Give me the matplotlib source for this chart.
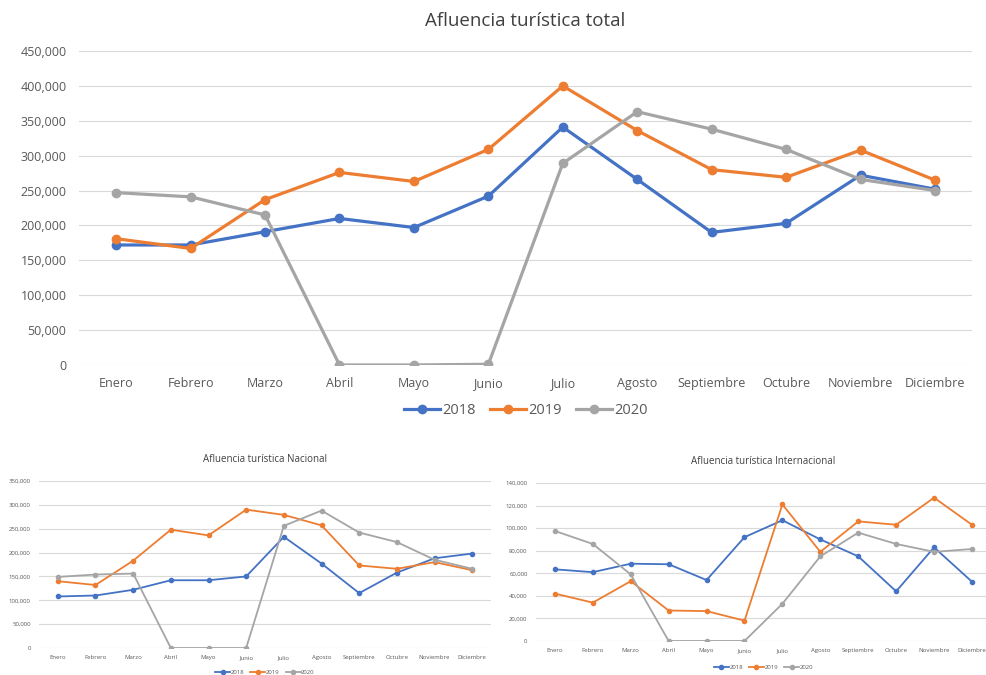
import matplotlib.pyplot as plt
from matplotlib.ticker import FuncFormatter

meses = ['Enero', 'Febrero', 'Marzo', 'Abril', 'Mayo', 'Junio', 'Julio',
         'Agosto', 'Septiembre', 'Octubre', 'Noviembre', 'Diciembre']
years = ['2018', '2019', '2020']

total_2018 = [172000, 172000, 191000, 210000, 197000, 242000, 341000, 266000, 190000, 203000, 272000, 252000]
total_2019 = [181000, 167000, 237000, 276000, 263000, 309000, 400000, 336000, 280000, 269000, 308000, 265000]
total_2020 = [247000, 241000, 215000, 0, 0, 1000, 289000, 363000, 338000, 309000, 266000, 250000]

nac_2018 = [108000, 110000, 122000, 142000, 142000, 150000, 233000, 177000, 115000, 158000, 188000, 198000]
nac_2019 = [140000, 132000, 183000, 248000, 236000, 290000, 279000, 257000, 173000, 166000, 180000, 163000]
nac_2020 = [149000, 154000, 156000, 0, 0, 0, 256000, 288000, 242000, 222000, 185000, 166000]

int_2018 = [63500, 61000, 68500, 68000, 54000, 92000, 107000, 90000, 75000, 44000, 83000, 52500]
int_2019 = [42000, 34000, 53000, 27000, 26500, 18000, 121000, 79000, 106000, 103000, 127000, 103000]
int_2020 = [97500, 86000, 59000, 0, 0, 0, 33000, 75000, 96000, 86000, 79000, 81500]

colors = ['#4472C4', '#ED7D31', '#A5A5A5']
txt = '#595959'
grid = '#D9D9D9'
plt.rcParams['font.family'] = ['Open Sans', 'DejaVu Sans']

fmt = FuncFormatter(lambda v, p: f'{int(v):,}')


def draw(ax, series, ymax, step, title, lw, ms, tfs, lfs, titfs, leg_y, tpad, xpad, ypad):
    x = range(len(meses))
    for s, c, y in zip(series, colors, years):
        ax.plot(x, s, color=c, lw=lw, marker='o', ms=ms, label=y, zorder=3)
    ax.set_xlim(-0.5, len(meses) - 0.5)
    ax.set_ylim(0, ymax)
    ax.set_yticks(range(0, ymax + 1, step))
    ax.yaxis.set_major_formatter(fmt)
    ax.set_xticks(list(x))
    ax.set_xticklabels(meses)
    ax.tick_params(length=0, labelsize=tfs, colors=txt)
    ax.tick_params(axis='x', pad=xpad)
    ax.tick_params(axis='y', pad=ypad)
    ax.grid(axis='y', color=grid, lw=0.8)
    ax.set_axisbelow(True)
    for sp in ax.spines.values():
        sp.set_visible(False)
    ax.set_title(title, fontsize=titfs, color='#404040', pad=tpad)
    ax.legend(loc='upper center', bbox_to_anchor=(0.5, leg_y), ncol=3, frameon=False,
              fontsize=lfs, labelcolor=txt, handlelength=2.5, columnspacing=1.0,
              handletextpad=0.1)


fig = plt.figure(figsize=(9.87, 6.75), dpi=100)

ax1 = fig.add_axes([0.080, 0.4593, 0.905, 0.4651])
draw(ax1, [total_2018, total_2019, total_2020], 450000, 50000,
     'Afluencia turística total', 2.3, 6, 9, 10.5, 13.5, -0.08, 18, 9, 9)

ax2 = fig.add_axes([0.0395, 0.040, 0.458, 0.2474])
draw(ax2, [nac_2018, nac_2019, nac_2020], 350000, 50000,
     'Afluencia turística Nacional', 1.3, 3, 4.3, 4.3, 7, -0.1, 14, 5, 6)

ax3 = fig.add_axes([0.543, 0.0504, 0.461, 0.234])
draw(ax3, [int_2018, int_2019, int_2020], 140000, 20000,
     'Afluencia turística Internacional', 1.3, 3, 4.3, 4.3, 7, -0.12, 14, 5, 6)

fig.savefig('out.png', dpi=100)
